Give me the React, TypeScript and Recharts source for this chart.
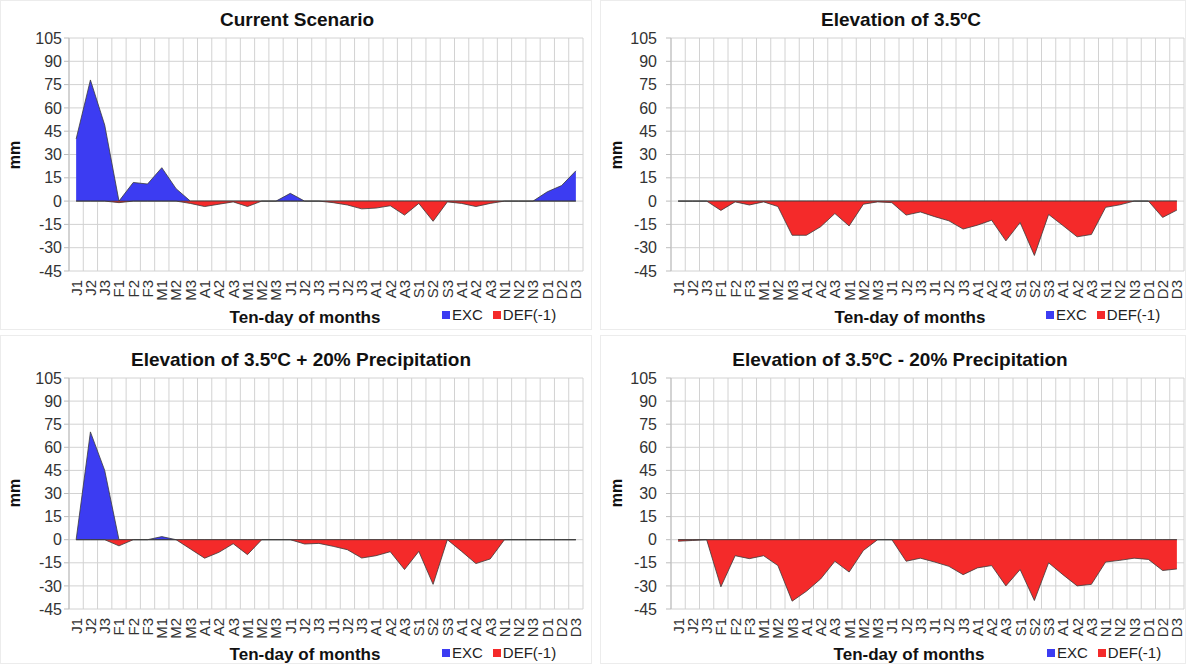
import React from "react";
import {
  AreaChart,
  Area,
  XAxis,
  YAxis,
  CartesianGrid,
  ReferenceLine,
} from "recharts";

const FONT = '"Liberation Sans", Arial, sans-serif';
const EXC_COLOR = "#3c3cf2";
const DEF_COLOR = "#f42a2a";

// ten-day periods, Jan..Dec (labels as printed on the chart)
const categories = [
  "J1", "J2", "J3", "F1", "F2", "F3", "M1", "M2", "M3",
  "A1", "A2", "A3", "M1", "M2", "M3", "J1", "J2", "J3",
  "J1", "J2", "J3", "A1", "A2", "A3", "S1", "S2", "S3",
  "A1", "A2", "A3", "N1", "N2", "N3", "D1", "D2", "D3",
];

const yTicks = [-45, -30, -15, 0, 15, 30, 45, 60, 75, 90, 105];

const currentExc = [
  40, 78, 49, 0, 12, 11, 21.5, 8, 0, 0, 0, 0, 0, 0, 0, 5, 0, 0,
  0, 0, 0, 0, 0, 0, 0, 0, 0, 0, 0, 0, 0, 0, 0, 6, 10, 19.5,
];
const currentDef = [
  0, 0, 0, -1, 0, 0, 0, 0, -1.5, -3.5, -2, -0.5, -3.5, 0, 0, 0, 0, 0,
  -1, -2.5, -5, -4.5, -3, -9, -1.5, -13, -0.5, -1.5, -3.5, -1.5, 0, 0, 0, 0, 0, 0,
];

const warmExc = [
  0, 0, 0, 0, 0, 0, 0, 0, 0, 0, 0, 0, 0, 0, 0, 0, 0, 0,
  0, 0, 0, 0, 0, 0, 0, 0, 0, 0, 0, 0, 0, 0, 0, 0, 0, 0,
];
const warmDef = [
  0, 0, 0, -6, -0.5, -2.5, -0.5, -3.5, -22, -22, -16.5, -8, -16, -2, -0.5, -1, -9, -7,
  -10, -12.7, -18, -15.5, -12.3, -25.6, -13.8, -35, -8.6, -15.7, -23, -21.5, -4, -2.4, 0, 0, -10.5, -5.8,
];

const wetExc = [
  0, 70, 45, 0, 0, 0, 2, 0, 0, 0, 0, 0, 0, 0, 0, 0, 0, 0,
  0, 0, 0, 0, 0, 0, 0, 0, 0, 0, 0, 0, 0, 0, 0, 0, 0, 0,
];
const wetDef = [
  0, 0, 0, -4, 0, 0, 0, 0, -6, -12, -8.2, -2.6, -9.7, 0, 0, 0, -2.8, -2.4,
  -4.3, -6.5, -11.9, -10.4, -7.8, -19.4, -7.6, -29, 0, -7.6, -15.5, -12.5, 0, 0, 0, 0, 0, 0,
];

const dryExc = [
  0, 0, 0, 0, 0, 0, 0, 0, 0, 0, 0, 0, 0, 0, 0, 0, 0, 0,
  0, 0, 0, 0, 0, 0, 0, 0, 0, 0, 0, 0, 0, 0, 0, 0, 0, 0,
];
const dryDef = [
  -1, -0.5, 0, -30.6, -10.4, -12.3, -10.4, -16.8, -39.9, -33.5, -25.5, -14, -21, -7, 0, 0, -14, -12,
  -14.5, -17.3, -22.7, -18.3, -16.8, -30, -19.4, -39.5, -15, -22.7, -30, -29, -14.5, -13.4, -12, -12.8, -20, -19,
];

function buildRows(exc: number[], def: number[]) {
  return categories.map((_, i) => ({ key: String(i), exc: exc[i], def: def[i] }));
}

function RotatedTick(props: any) {
  const { x, y, payload } = props;
  return (
    <text
      x={x}
      y={y}
      transform={`rotate(-90 ${x} ${y})`}
      textAnchor="end"
      dy="0.36em"
      fontSize={15}
      fontFamily={FONT}
      fill="#333"
    >
      {categories[Number(payload.value)]}
    </text>
  );
}

interface PanelProps {
  title: string;
  exc: number[];
  def: number[];
  left: number;
  top: number;
  width: number;
  height: number;
  margin: { top: number; right: number; bottom: number; left: number };
  yAxisWidth: number;
  yTickMargin: number;
  titleX: number;
  titleY: number;
  xLabelX: number;
  xLabelY: number;
  legendX: number;
  legendY: number;
  mmX: number;
  mmY: number;
}

function Panel(p: PanelProps) {
  const data = buildRows(p.exc, p.def);
  const plotLeft = p.margin.left + p.yAxisWidth;
  const plotWidth = p.width - plotLeft - p.margin.right;
  const half = plotWidth / (categories.length * 2);
  const gridX = categories
    .map((_, i) => plotLeft + (i * plotWidth) / categories.length)
    .concat(plotLeft + plotWidth);

  return (
    <>
      <div
        style={{
          position: "absolute",
          left: p.left,
          top: p.top,
          width: p.width - 2,
          height: p.height - 2,
          border: "1px solid #ececec",
        }}
      />
      <div style={{ position: "absolute", left: p.left, top: p.top }}>
        <AreaChart width={p.width} height={p.height} data={data} margin={p.margin}>
          <CartesianGrid
            stroke="#d2d2d2"
            verticalCoordinatesGenerator={() => gridX}
          />
          <XAxis
            dataKey="key"
            scale="point"
            padding={{ left: half, right: half }}
            interval={0}
            axisLine={false}
            tickLine={false}
            tickSize={0}
            tickMargin={9}
            height={40}
            tick={<RotatedTick />}
          />
          <YAxis
            type="number"
            domain={[-45, 105]}
            ticks={yTicks}
            interval={0}
            width={p.yAxisWidth}
            axisLine={{ stroke: "#bdbdbd" }}
            tickLine={{ stroke: "#bdbdbd" }}
            tickSize={5}
            tickMargin={p.yTickMargin}
            tick={{ fontSize: 16, fontFamily: FONT, fill: "#333" }}
          />
          <Area
            type="linear"
            dataKey="exc"
            name="EXC"
            fill={EXC_COLOR}
            fillOpacity={1}
            stroke="#3a3a3a"
            strokeWidth={0.8}
            dot={false}
            activeDot={false}
            isAnimationActive={false}
          />
          <Area
            type="linear"
            dataKey="def"
            name="DEF(-1)"
            fill={DEF_COLOR}
            fillOpacity={1}
            stroke="#3a3a3a"
            strokeWidth={0.8}
            dot={false}
            activeDot={false}
            isAnimationActive={false}
          />
          <ReferenceLine
            segment={[
              { x: "0", y: 0 },
              { x: String(categories.length - 1), y: 0 },
            ]}
            stroke="#3a3a3a"
            strokeWidth={0.8}
          />
        </AreaChart>
      </div>
      <div
        style={{
          position: "absolute",
          left: p.titleX,
          top: p.titleY - 11,
          transform: "translateX(-50%)",
          whiteSpace: "nowrap",
          fontFamily: FONT,
          fontWeight: "bold",
          fontSize: 19,
          lineHeight: "22px",
          color: "#111",
        }}
      >
        {p.title}
      </div>
      <div
        style={{
          position: "absolute",
          left: p.xLabelX,
          top: p.xLabelY - 10,
          transform: "translateX(-50%)",
          whiteSpace: "nowrap",
          fontFamily: FONT,
          fontWeight: "bold",
          fontSize: 17,
          lineHeight: "20px",
          color: "#111",
        }}
      >
        Ten-day of months
      </div>
      <div
        style={{
          position: "absolute",
          left: p.mmX,
          top: p.mmY,
          transform: "translate(-50%, -50%) rotate(-90deg)",
          whiteSpace: "nowrap",
          fontFamily: FONT,
          fontWeight: "bold",
          fontSize: 16,
          lineHeight: "18px",
          color: "#111",
        }}
      >
        mm
      </div>
      <div
        style={{
          position: "absolute",
          left: p.legendX,
          top: p.legendY - 9,
          display: "flex",
          alignItems: "center",
          fontFamily: FONT,
          fontSize: 15,
          lineHeight: "18px",
          color: "#222",
          whiteSpace: "nowrap",
        }}
      >
        <span style={{ width: 8, height: 8, background: EXC_COLOR, display: "inline-block", marginRight: 2 }} />
        <span style={{ marginRight: 10 }}>EXC</span>
        <span style={{ width: 8, height: 8, background: DEF_COLOR, display: "inline-block", marginRight: 2 }} />
        <span>DEF(-1)</span>
      </div>
    </>
  );
}

export default function App() {
  return (
    <div
      style={{
        position: "absolute",
        left: 0,
        top: 0,
        width: 1186,
        height: 664,
        background: "#fff",
        overflow: "hidden",
      }}
    >
      <Panel
        title="Current Scenario"
        exc={currentExc}
        def={currentDef}
        left={0}
        top={0}
        width={592}
        height={330}
        margin={{ top: 38, right: 9, bottom: 19, left: 14 }}
        yAxisWidth={55}
        yTickMargin={2}
        titleX={297}
        titleY={20}
        xLabelX={305}
        xLabelY={318}
        legendX={442}
        legendY={315}
        mmX={15}
        mmY={155}
      />
      <Panel
        title="Elevation of 3.5ºC"
        exc={warmExc}
        def={warmDef}
        left={600}
        top={0}
        width={586}
        height={330}
        margin={{ top: 38, right: 2, bottom: 19, left: 14 }}
        yAxisWidth={57}
        yTickMargin={9}
        titleX={901}
        titleY={20}
        xLabelX={910}
        xLabelY={318}
        legendX={1046}
        legendY={315}
        mmX={617}
        mmY={155}
      />
      <Panel
        title="Elevation of 3.5ºC + 20% Precipitation"
        exc={wetExc}
        def={wetDef}
        left={0}
        top={335}
        width={592}
        height={329}
        margin={{ top: 43, right: 9, bottom: 15, left: 14 }}
        yAxisWidth={55}
        yTickMargin={2}
        titleX={301}
        titleY={360}
        xLabelX={305}
        xLabelY={655}
        legendX={442}
        legendY={653}
        mmX={15}
        mmY={493}
      />
      <Panel
        title="Elevation of 3.5ºC - 20% Precipitation"
        exc={dryExc}
        def={dryDef}
        left={600}
        top={335}
        width={586}
        height={329}
        margin={{ top: 43, right: 2, bottom: 15, left: 14 }}
        yAxisWidth={57}
        yTickMargin={9}
        titleX={900}
        titleY={360}
        xLabelX={909}
        xLabelY={655}
        legendX={1047}
        legendY={653}
        mmX={617}
        mmY={493}
      />
    </div>
  );
}
